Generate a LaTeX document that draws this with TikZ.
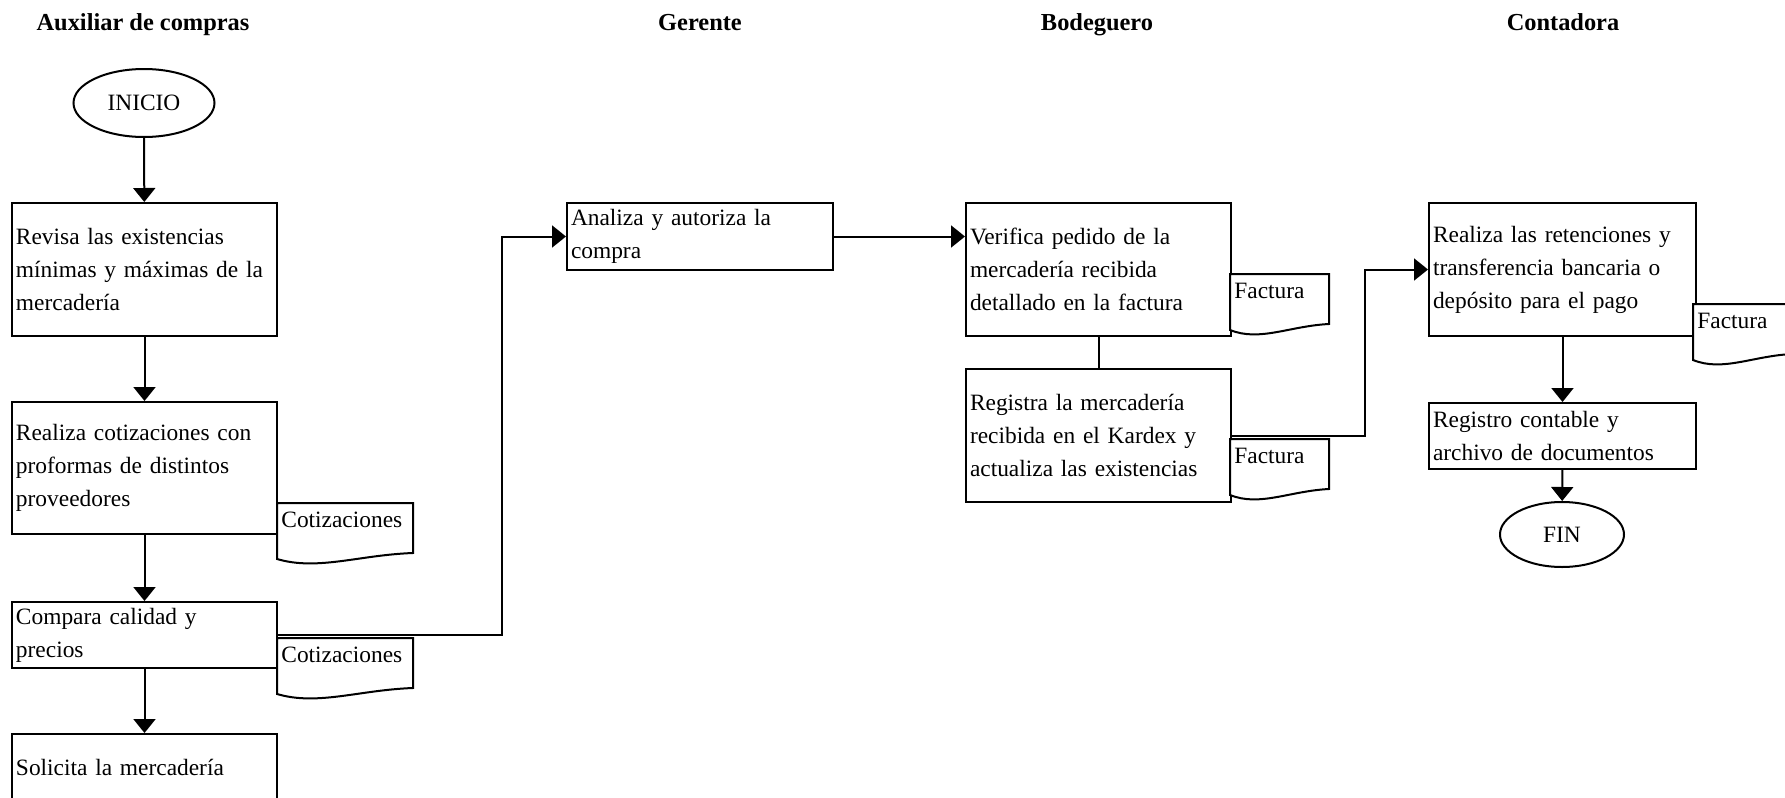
\documentclass[tikz,border=0pt]{standalone}
\usepackage{fontspec}
\setmainfont{Liberation Serif}
\usetikzlibrary{arrows.meta,shapes.geometric}
\newcommand\mydoc[5]{%
  \draw[docline] (#2,#3) -- ({#2+#4},#3) -- ({#2+#4},{#3+50})
    .. controls ({#2+0.6*#4},{#3+52}) and ({#2+0.3*#4},{#3+68}) .. (#2,{#3+56}) -- cycle;
  \node[doctext] (#1) at ({#2+4},{#3+24}) {#5};}
\begin{document}
\begin{tikzpicture}[x=0.5pt,y=-0.5pt,
  every node/.style={font=\fontsize{11.7pt}{16.5pt}\selectfont},
  box/.style={draw, line width=1pt, rectangle, inner xsep=2pt, inner ysep=0pt,
    minimum width=132.5pt, text width=128.5pt, align=left},
  term/.style={draw, line width=1pt, ellipse, inner sep=0pt},
  title/.style={font=\fontsize{12.2pt}{14pt}\selectfont\bfseries, anchor=base},
  flow/.style={line width=1pt, -{Triangle[length=7pt,width=11pt]}},
  plain/.style={line width=1pt},
  docline/.style={line width=1pt, fill=white},
  doctext/.style={anchor=base west, inner sep=0pt}]
\useasboundingbox (0,0) rectangle (1785,798);

% lane titles
\node[title] (t1) at (143,30) {Auxiliar de compras};
\node[title] (t2) at (700,30) {Gerente};
\node[title] (t3) at (1097,30) {Bodeguero};
\node[title] (t4) at (1563,30) {Contadora};

% Auxiliar de compras
\node[term, minimum width=70.5pt, minimum height=34pt] (ini) at (144,103) {INICIO};
\node[box, minimum height=66.5pt] (b1) at (144.5,269.5) {Revisa las existencias\\ mínimas y máximas de la\\ mercadería};
\node[box, minimum height=66pt] (b2) at (144.5,468) {Realiza cotizaciones con\\ proformas de distintos\\ proveedores};
\node[box, minimum height=33pt] (b3) at (144.5,635) {Compara calidad y\\ precios};
\node[box, minimum height=33.5pt] (b4) at (144.5,767.5) {Solicita la mercadería};

% Gerente
\node[box, minimum width=133pt, text width=129pt, minimum height=33.5pt] (b5) at (700,236.5) {Analiza y autoriza la\\ compra};

% Bodeguero
\node[box, minimum height=66.5pt] (b6) at (1098.5,269.5) {Verifica pedido de la\\ mercadería recibida\\ detallado en la factura};
\node[box, minimum height=66.5pt] (b7) at (1098.5,435.5) {Registra la mercadería\\ recibida en el Kardex y\\ actualiza las existencias};

% Contadora
\node[box, minimum width=133.5pt, text width=129.5pt, minimum height=66.5pt] (b8) at (1562.5,269.5) {Realiza las retenciones y\\ transferencia bancaria o\\ depósito para el pago};
\node[box, minimum width=133.5pt, text width=129.5pt, minimum height=33pt] (b9) at (1562.5,436) {Registro contable y\\ archivo de documentos};
\node[term, minimum width=62pt, minimum height=32.5pt] (fin) at (1562,534.5) {FIN};

% connectors
\draw[flow] (ini) -- (b1);
\draw[flow] (b1) -- (b2);
\draw[flow] (b2) -- (b3);
\draw[flow] (b3) -- (b4);
\draw[flow] (b3.east) -- ++(224,0) |- (b5.west);
\draw[flow] (b5.east) -- (b5.east -| b6.west);
\draw[plain] (b6) -- (b7);
\draw[flow] (b7.east) -- ++(133,0) |- (b8.west);
\draw[flow] (b8) -- (b9);
\draw[flow] (b9) -- (fin);

% documents
\mydoc{d1}{277}{503}{136}{Cotizaciones}
\mydoc{d2}{277}{638}{136}{Cotizaciones}
\mydoc{d3}{1230}{274}{99}{Factura}
\mydoc{d4}{1230}{439}{99}{Factura}
\mydoc{d5}{1693}{304}{99}{Factura}
\end{tikzpicture}
\end{document}
